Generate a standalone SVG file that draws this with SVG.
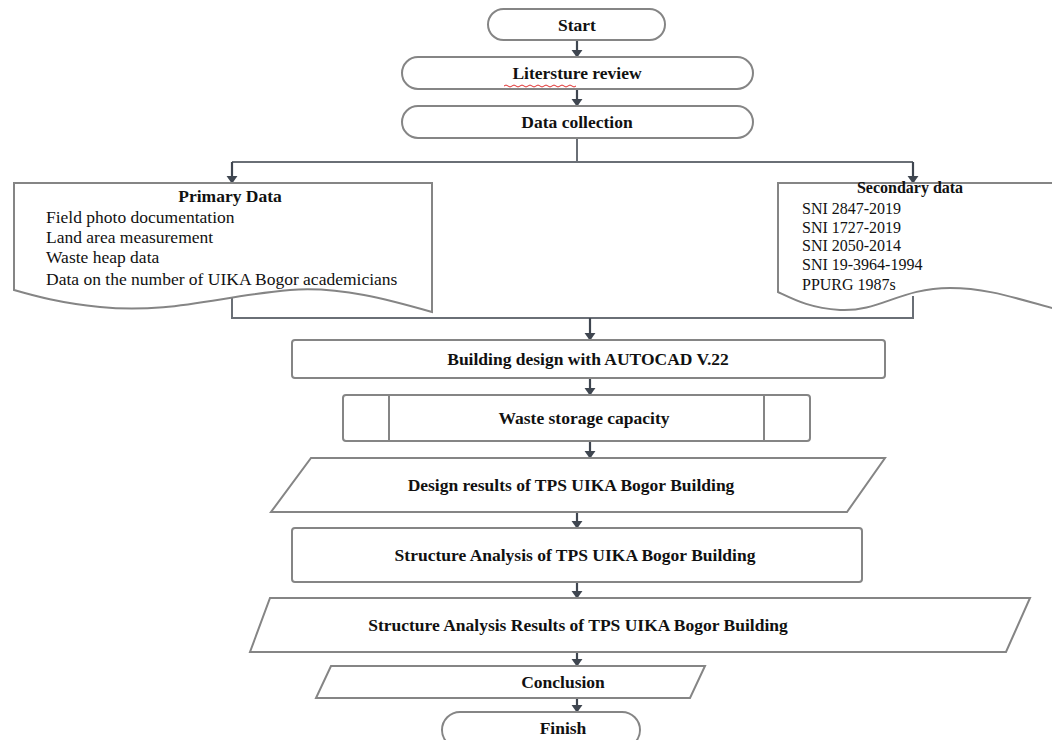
<svg xmlns="http://www.w3.org/2000/svg" width="1052" height="740" viewBox="0 0 1052 740">
<defs>
<marker id="ah" viewBox="0 0 10 14" refX="9" refY="7" markerWidth="8" markerHeight="13" markerUnits="userSpaceOnUse" orient="auto">
<path d="M0,0 L10,7 L0,14 z" fill="#3f4650"/>
</marker>
</defs>
<style>
.shape{fill:#fff;stroke:#858585;stroke-width:2}
.conn{fill:none;stroke:#6a6f76;stroke-width:2}
.arr{fill:none;stroke:#3f4650;stroke-width:2.2;marker-end:url(#ah)}
.t{font-family:"Liberation Serif","Times New Roman",serif;font-size:17.5px;fill:#111}
.s{font-size:16px}
.b{font-weight:bold;text-anchor:middle}
</style>
<rect width="1052" height="740" fill="#fff"/>
<g id="connectors">
<path class="arr" d="M577,40 V57"/>
<path class="arr" d="M577,89 V106"/>
<path class="conn" d="M577,138 V162 M232,162 H913"/>
<path class="arr" d="M232,162 V183"/>
<path class="arr" d="M913,162 V183"/>
<path class="conn" d="M232,296 V318 H913 V296"/>
<path class="arr" d="M590,318 V340"/>
<path class="arr" d="M590,378 V395"/>
<path class="arr" d="M590,441 V458"/>
<path class="arr" d="M577,512 V528"/>
<path class="arr" d="M577,582 V598"/>
<path class="arr" d="M577,652 V666"/>
<path class="arr" d="M577,698 V712"/>
</g>
<g id="start">
<rect class="shape" x="488" y="9" width="177" height="31" rx="15.5"/>
<text class="t b" x="577" y="31">Start</text>
</g>
<g id="literature">
<rect class="shape" x="402" y="57" width="351" height="32" rx="16"/>
<text class="t b" x="577" y="79">Litersture review</text>
<path d="M504,86 q2,-2 4,0 t4,0 t4,0 t4,0 t4,0 t4,0 t4,0 t4,0 t4,0 t4,0 t4,0 t4,0 t4,0 t4,0 t4,0 t4,0 t4,0 t4,0" fill="none" stroke="#e03030" stroke-width="1"/>
</g>
<g id="data-collection">
<rect class="shape" x="402" y="106" width="351" height="32" rx="16"/>
<text class="t b" x="577" y="128">Data collection</text>
</g>
<g id="primary">
<path class="shape" d="M14,183 H432 V312 C390,300 340,286 290,290 C220,296 170,314 100,307 C60,303 35,296 14,290 Z"/>
<text class="t b" x="230" y="202">Primary Data</text>
<text class="t" x="46" y="223">Field photo documentation</text>
<text class="t" x="46" y="243">Land area measurement</text>
<text class="t" x="46" y="263">Waste heap data</text>
<text class="t" x="46" y="285">Data on the number of UIKA Bogor academicians</text>
</g>
<g id="secondary">
<path class="shape" d="M778,183 H1060 V310 C1020,300 990,288 950,288 C900,288 880,312 840,310 C810,308 795,300 778,292 Z"/>
<text class="t s b" x="910" y="193">Secondary data</text>
<text class="t s" x="802" y="214">SNI 2847-2019</text>
<text class="t s" x="802" y="233">SNI 1727-2019</text>
<text class="t s" x="802" y="251">SNI 2050-2014</text>
<text class="t s" x="802" y="270">SNI 19-3964-1994</text>
<text class="t s" x="802" y="290">PPURG 1987s</text>
</g>
<g id="building-design">
<rect class="shape" x="292" y="340" width="593" height="38" rx="3"/>
<text class="t b" x="588" y="365">Building design with AUTOCAD V.22</text>
</g>
<g id="waste-storage">
<rect class="shape" x="343" y="395" width="467" height="46" rx="3"/>
<path class="shape" d="M389,395 V441 M764,395 V441"/>
<text class="t b" x="584" y="424">Waste storage capacity</text>
</g>
<g id="design-results">
<polygon class="shape" points="311,458 885,458 847,512 271,512"/>
<text class="t b" x="571" y="491">Design results of TPS UIKA Bogor Building</text>
</g>
<g id="structure-analysis">
<rect class="shape" x="292" y="528" width="570" height="54" rx="3"/>
<text class="t b" x="575" y="561">Structure Analysis of TPS UIKA Bogor Building</text>
</g>
<g id="structure-results">
<polygon class="shape" points="270,598 1030,598 1006,652 250,652"/>
<text class="t b" x="578" y="631">Structure Analysis Results of TPS UIKA Bogor Building</text>
</g>
<g id="conclusion">
<polygon class="shape" points="331,666 705,666 690,698 316,698"/>
<text class="t b" x="563" y="688">Conclusion</text>
</g>
<g id="finish">
<rect class="shape" x="442" y="712" width="198" height="36" rx="18"/>
<text class="t b" x="563" y="734">Finish</text>
</g>
</svg>
